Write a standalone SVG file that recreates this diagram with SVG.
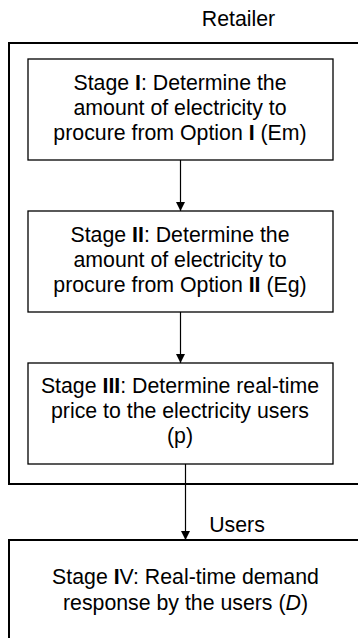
<svg xmlns="http://www.w3.org/2000/svg" width="358" height="638" viewBox="0 0 358 638">
  <style>
    .frame { fill: none; stroke: #000; stroke-width: 2; }
    .box { fill: #fff; stroke: #000; stroke-width: 1.3; }
    .wire { fill: none; stroke: #000; stroke-width: 1.2; }
    text { font-family: "Liberation Sans", Arial, sans-serif; font-size: 21.3px; fill: #000; text-anchor: middle; }
    .b { font-weight: bold; }
  </style>
  <defs>
    <marker id="arrow" markerWidth="10" markerHeight="10" refX="9" refY="4.5" orient="auto" markerUnits="userSpaceOnUse">
      <path d="M0,0 L9,4.5 L0,9 Z" fill="#000"/>
    </marker>
  </defs>

  <rect width="358" height="638" fill="#fff"/>

  <!-- Retailer frame -->
  <g id="retailer">
    <path class="frame" d="M360,43 H9 V484 H360"/>
    <text x="238.5" y="26">Retailer</text>
  </g>

  <!-- Users frame -->
  <g id="users">
    <path class="frame" d="M360,540 H9 V640"/>
    <text x="237" y="532">Users</text>
  </g>

  <g id="stage1">
    <rect class="box" x="28" y="59" width="305" height="101"/>
    <text x="180" y="90">Stage <tspan class="b">I</tspan>: Determine the</text>
    <text x="180" y="115">amount of electricity to</text>
    <text x="180" y="140">procure from Option <tspan class="b">I</tspan> (Em)</text>
  </g>

  <g id="stage2">
    <rect class="box" x="28" y="211" width="305" height="101"/>
    <text x="180" y="242">Stage <tspan class="b">II</tspan>: Determine the</text>
    <text x="180" y="267">amount of electricity to</text>
    <text x="180" y="292">procure from Option <tspan class="b">II</tspan> (Eg)</text>
  </g>

  <g id="stage3">
    <rect class="box" x="28" y="363" width="305" height="101"/>
    <text x="180" y="393">Stage <tspan class="b">III</tspan>: Determine real-time</text>
    <text x="180" y="418">price to the electricity users</text>
    <text x="180" y="443">(p)</text>
  </g>

  <g id="stage4">
    <text x="185.5" y="584">Stage <tspan class="b">I</tspan>V: Real-time demand</text>
    <text x="185.5" y="610">response by the users (<tspan font-style="italic">D</tspan>)</text>
  </g>

  <g id="connectors">
    <line class="wire" x1="180.5" y1="160" x2="180.5" y2="211" marker-end="url(#arrow)"/>
    <line class="wire" x1="180.5" y1="312" x2="180.5" y2="363" marker-end="url(#arrow)"/>
    <line class="wire" x1="185.5" y1="464" x2="185.5" y2="540" marker-end="url(#arrow)"/>
  </g>
</svg>
